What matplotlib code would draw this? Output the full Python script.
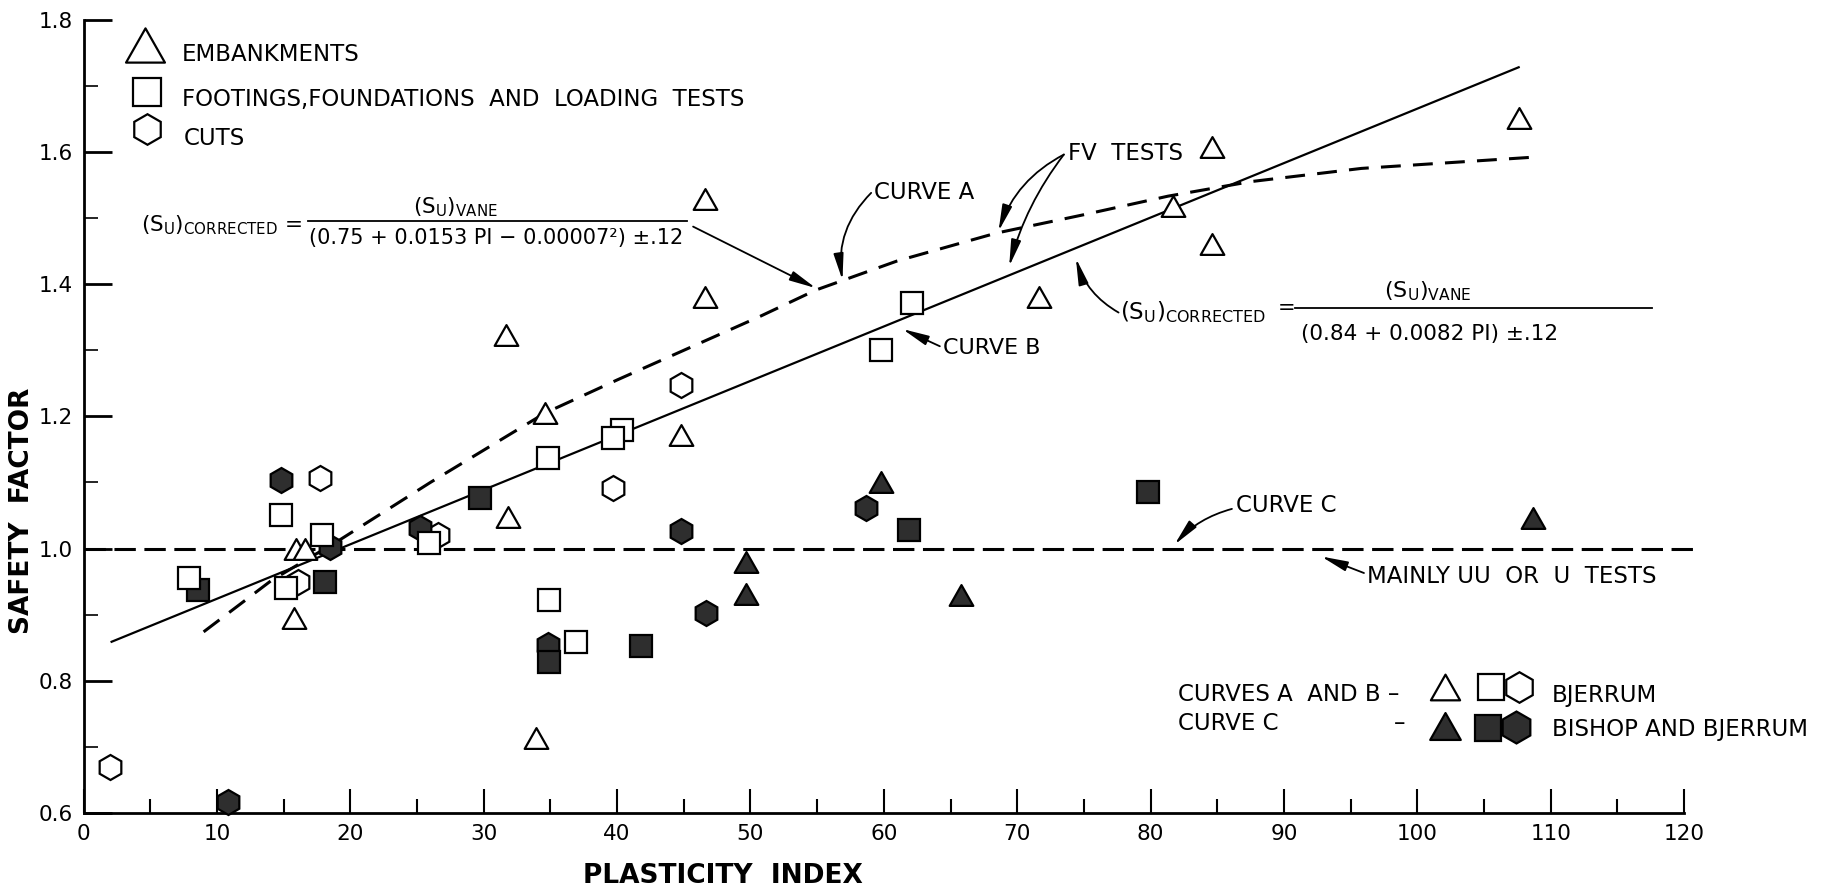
import matplotlib
matplotlib.use("Agg")
import matplotlib.pyplot as plt
from matplotlib.path import Path

# embankments (open triangles)
emb_pi = [15.9, 16.6, 15.8, 31.7, 31.8, 34.6, 33.9, 44.8, 46.6, 46.6, 71.6, 81.7, 84.6, 84.6, 107.6]
emb_sf = [1.000, 1.000, 0.895, 1.323, 1.048, 1.205, 0.713, 1.172, 1.381, 1.528, 1.381, 1.518, 1.608, 1.460, 1.651]

# footings, foundations and loading tests (open squares)
foot_pi = [7.9, 14.8, 15.2, 17.9, 25.9, 34.8, 34.9, 36.9, 40.4, 39.7, 59.8, 62.1]
foot_sf = [0.955, 1.051, 0.940, 1.021, 1.008, 1.137, 0.922, 0.859, 1.180, 1.167, 1.300, 1.372]

# cuts (open hexagons)
cut_pi = [2.0, 16.1, 17.7, 26.6, 39.7, 44.8]
cut_sf = [0.670, 0.950, 1.106, 1.021, 1.091, 1.248]

# Bishop and Bjerrum (filled)
b_emb_pi = [49.7, 49.7, 59.8, 65.8, 108.7]
b_emb_sf = [0.980, 0.932, 1.101, 0.930, 1.046]
b_foot_pi = [8.6, 18.1, 29.7, 34.9, 41.8, 61.9, 79.8]
b_foot_sf = [0.937, 0.950, 1.076, 0.829, 0.852, 1.028, 1.086]
b_cut_pi = [10.8, 14.8, 18.45, 25.2, 34.8, 44.8, 46.7, 58.7]
b_cut_sf = [0.617, 1.104, 1.003, 1.031, 0.854, 1.026, 0.902, 1.061]

# curves
curve_a_pi = [9.0, 14.1, 19.2, 26.0, 34.6, 40.0, 50.7, 54.9, 61.0, 68.4, 75.0, 81.3, 87.5, 95.8, 108.7]
curve_a_sf = [0.874, 0.952, 1.013, 1.100, 1.205, 1.255, 1.351, 1.391, 1.435, 1.477, 1.505, 1.533, 1.555, 1.575, 1.592]
curve_b_pi = [2.1, 107.6]
curve_b_sf = [0.859, 1.728]
curve_c_pi = [0.0, 120.8]
curve_c_sf = [1.0, 1.0]

xticks = list(range(0, 121, 10))
yticks = [0.6, 0.8, 1.0, 1.2, 1.4, 1.6, 1.8]

tri = Path([(0, 0.88), (-1, -0.88), (1, -0.88), (0, 0.88)],
           [Path.MOVETO, Path.LINETO, Path.LINETO, Path.CLOSEPOLY])
dark = '#2e2e2e'
fs = 16.5

fig = plt.figure(figsize=(18.21, 8.94), dpi=100)
ax = fig.add_axes([0.0459, 0.0906, 0.8789, 0.8874])
ax.set_xlim(0, 120)
ax.set_ylim(0.6, 1.8)
for s in ['top', 'right']:
    ax.spines[s].set_visible(False)
for s in ['left', 'bottom']:
    ax.spines[s].set_linewidth(2)

ax.set_xticks(xticks)
ax.set_xticklabels([str(v) for v in xticks])
ax.set_xticks(range(5, 120, 10), minor=True)
ax.set_yticks(yticks)
ax.set_yticklabels(['%.1f' % v for v in yticks])
ax.set_yticks([0.7, 0.9, 1.1, 1.3, 1.5, 1.7], minor=True)
ax.tick_params(axis='x', which='major', direction='in', length=17, width=1.5, labelsize=15.5, pad=8)
ax.tick_params(axis='x', which='minor', direction='in', length=10, width=1.5)
ax.tick_params(axis='y', which='major', direction='in', length=20, width=2, labelsize=15.5, pad=8)
ax.tick_params(axis='y', which='minor', direction='in', length=10, width=1.2)

# curves
ax.plot(curve_a_pi, curve_a_sf, color='black', lw=2.2, ls=(0, (6.5, 4)), zorder=2)
ax.plot(curve_b_pi, curve_b_sf, color='black', lw=1.6, zorder=2)
ax.plot(curve_c_pi, curve_c_sf, color='black', lw=2.2, ls=(0, (7, 2.8)), zorder=2, clip_on=False)

# data points
kw = dict(ls='none', mec='black', mew=1.6, clip_on=False)
ax.plot(cut_pi, cut_sf, marker='h', ms=18, mfc='white', zorder=3, **kw)
ax.plot(emb_pi, emb_sf, marker=tri, ms=17, mfc='white', zorder=3, **kw)
ax.plot(b_cut_pi, b_cut_sf, marker='h', ms=18, mfc=dark, zorder=4, **kw)
ax.plot(b_emb_pi, b_emb_sf, marker=tri, ms=17, mfc=dark, zorder=4, **kw)
ax.plot(b_foot_pi, b_foot_sf, marker='s', ms=15.5, mfc=dark, zorder=4, **kw)
ax.plot(foot_pi, foot_sf, marker='s', ms=15.5, mfc='white', zorder=5, **kw)

# key, top left
ax.plot([4.63], [1.761], marker=tri, ms=28, mfc='white', **kw)
ax.plot([4.72], [1.690], marker='s', ms=20, mfc='white', **kw)
ax.plot([4.72], [1.634], marker='h', ms=22, mfc='white', **kw)
ax.text(7.36, 1.748, 'EMBANKMENTS', fontsize=fs, va='center')
ax.text(7.36, 1.680, 'FOOTINGS,FOUNDATIONS  AND  LOADING  TESTS', fontsize=fs, va='center')
ax.text(7.54, 1.620, 'CUTS', fontsize=fs, va='center')

# key, bottom right
ax.text(82.05, 0.780, 'CURVES A  AND B –', fontsize=fs, va='center')
ax.text(82.05, 0.736, 'CURVE C', fontsize=fs, va='center')
ax.text(98.7, 0.736, '–', fontsize=fs, va='center', ha='center')
ax.plot([102.1], [0.790], marker=tri, ms=21, mfc='white', **kw)
ax.plot([105.5], [0.790], marker='s', ms=19, mfc='white', **kw)
ax.plot([107.6], [0.790], marker='h', ms=22, mfc='white', **kw)
ax.plot([102.1], [0.731], marker=tri, ms=22, mfc=dark, **kw)
ax.plot([105.3], [0.729], marker='s', ms=19, mfc=dark, **kw)
ax.plot([107.4], [0.730], marker='h', ms=23, mfc=dark, **kw)
ax.text(110.1, 0.777, 'BJERRUM', fontsize=fs, va='center')
ax.text(110.1, 0.726, 'BISHOP AND BJERRUM', fontsize=fs, va='center')

# formulas
su_corr = r'$(\mathrm{S}_\mathrm{U})_\mathrm{CORRECTED}$'
su_vane = r'$(\mathrm{S}_\mathrm{U})_\mathrm{VANE}$'
ax.text(4.3, 1.489, su_corr + ' =', fontsize=15.5, va='center')
ax.plot([16.8, 45.25], [1.495, 1.495], color='black', lw=1.3)
ax.text(27.9, 1.516, su_vane, fontsize=15.5, va='center', ha='center')
ax.text(30.9, 1.470, '(0.75 + 0.0153 PI − 0.00007²) ±.12', fontsize=15, va='center', ha='center')

ax.text(77.7, 1.357, su_corr, fontsize=16.5, va='center')
ax.text(90.2, 1.364, '=', fontsize=15, va='center', ha='center')
ax.plot([90.8, 117.6], [1.364, 1.364], color='black', lw=1.3)
ax.text(100.8, 1.390, su_vane, fontsize=16, va='center', ha='center')
ax.text(100.9, 1.325, '(0.84 + 0.0082 PI) ±.12', fontsize=15.5, va='center', ha='center')

# labels on the curves
ax.text(59.3, 1.539, 'CURVE A', fontsize=fs, va='center')
ax.text(73.8, 1.598, 'FV  TESTS', fontsize=fs, va='center')
ax.text(64.4, 1.304, 'CURVE B', fontsize=16, va='center')
ax.text(86.4, 1.065, 'CURVE C', fontsize=fs, va='center')
ax.text(96.2, 0.958, 'MAINLY UU  OR  U  TESTS', fontsize=fs, va='center')


def arrow(x0, y0, x1, y1, rad=0.0):
    ax.annotate('', xy=(x1, y1), xytext=(x0, y0),
                arrowprops=dict(arrowstyle='-|>,head_length=1.6,head_width=0.3',
                                connectionstyle='arc3,rad=%s' % rad, color='black',
                                lw=1.3, shrinkA=0, shrinkB=0, mutation_scale=10))


arrow(45.7, 1.487, 54.9, 1.394)
arrow(59.05, 1.538, 56.9, 1.406, 0.25)
arrow(73.5, 1.596, 68.6, 1.480, 0.2)
arrow(73.5, 1.596, 69.4, 1.427, 0.1)
arrow(64.2, 1.306, 61.4, 1.332)
arrow(77.6, 1.357, 74.4, 1.439, -0.2)
arrow(86.1, 1.060, 81.8, 1.006, 0.15)
arrow(96.0, 0.963, 92.8, 0.988)

fig.text(0.0121, 0.4289, 'SAFETY  FACTOR', rotation=90, fontsize=19, fontweight='bold',
         ha='center', va='center')
fig.text(0.397, 0.0201, 'PLASTICITY  INDEX', fontsize=19, fontweight='bold',
         ha='center', va='center')

fig.savefig('out.png', dpi=100)
